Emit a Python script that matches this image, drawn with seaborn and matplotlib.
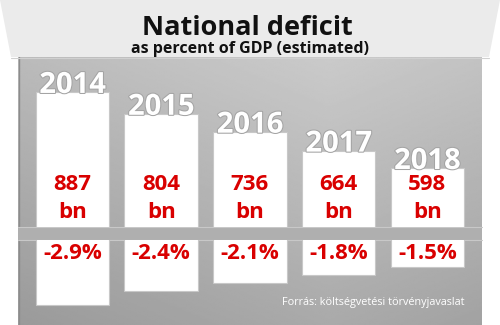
import numpy as np
import pandas as pd
import matplotlib
matplotlib.use("Agg")
import matplotlib.pyplot as plt
import matplotlib.patheffects as pe
from matplotlib.patches import Polygon, Rectangle
from matplotlib.transforms import blended_transform_factory
import seaborn as sns

# ---- data ----
years = ["2014", "2015", "2016", "2017", "2018"]
deficit_bn = [887, 804, 736, 664, 598]
deficit_pct = [2.9, 2.4, 2.1, 1.8, 1.5]
bn_labels = ["887", "804", "736", "664", "598"]
pct_labels = ["-2.9%", "-2.4%", "-2.1%", "-1.8%", "-1.5%"]
title = "National deficit"
subtitle = "as percent of GDP (estimated)"
source = "Forrás: költségvetési törvényjavaslat"

sns.set_theme(style="white")
FONT = ["Open Sans", "DejaVu Sans"]
plt.rcParams["font.family"] = FONT

W, H = 500, 325
fig = plt.figure(figsize=(5, 3.25), dpi=100)
fig.patch.set_facecolor("white")

# background axes in pixel coordinates
bg = fig.add_axes([0, 0, 1, 1], zorder=0)
bg.set_xlim(0, W)
bg.set_ylim(H, 0)
bg.axis("off")

# gray panel with gradient
px0, px1, py0, py1 = 18, 482, 57, 325
xx, yy = np.meshgrid(np.linspace(px0, px1, 200), np.linspace(py0, py1, 200))
vals = (202 - 0.12 * (yy - 57) - 0.05 * np.abs(xx - 330)) / 255.0
bg.imshow(vals, extent=[px0, px1, py1, py0], cmap="gray", vmin=0, vmax=1,
          aspect="auto", zorder=1, interpolation="bilinear")
bg.plot([px0 + 0.5, px0 + 0.5], [py0, py1], color="#8c8c8c", lw=1, zorder=2)

# header trapezoid
bg.add_patch(Polygon([(0, 0), (W, 0), (489, 57), (11, 57)], closed=True,
                     facecolor="#ebebeb", edgecolor="none", zorder=3))
bg.plot([11, 489], [57.5, 57.5], color="#d0d0d0", lw=0.8, zorder=3)

# divider band
bg.add_patch(Rectangle((px0, 226.7), px1 - px0, 13.3, facecolor="#afafaf",
                       edgecolor="none", zorder=2))
bg.plot([px0, px1], [226.9, 226.9], color="#c8c8c8", lw=0.8, zorder=2)
bg.plot([px0, px1], [239.8, 239.8], color="#c8c8c8", lw=0.8, zorder=2)

bg.text(247, 35, title, ha="center", va="baseline", fontsize=19.5,
        fontweight="bold", color="#111111", zorder=4)
bg.text(250, 52.7, subtitle, ha="center", va="baseline", fontsize=11.5,
        fontweight="bold", color="#111111", zorder=4)
bg.text(464, 305, source, ha="right", va="baseline", fontsize=7.8,
        color="white", zorder=4)

df = pd.DataFrame({"year": years, "bn": deficit_bn, "pct": deficit_pct})

# upper bars
ax_up = fig.add_axes([28.2 / W, (H - 226.7) / H, 443.5 / W, 169.7 / H], zorder=2)
sns.barplot(data=df, x="year", y="bn", ax=ax_up, color="white", width=0.83,
            edgecolor="#c8c8c8", linewidth=0.8, saturation=1)
ax_up.set_xlim(-0.5, 4.5)
ax_up.set_ylim(376, 1021)
ax_up.axis("off")
tr_up = blended_transform_factory(ax_up.transData, ax_up.transAxes)
for i, (y, v, lab) in enumerate(zip(years, deficit_bn, bn_labels)):
    ax_up.annotate(y, xy=(i, v), xytext=(0, -0.5), textcoords="offset points",
                   ha="center", va="baseline", fontsize=21, fontweight="bold",
                   color="white", zorder=5,
                   path_effects=[pe.withStroke(linewidth=1.5, foreground="#a4a4a4")])
    ax_up.text(i, 0.216, lab, transform=tr_up, ha="center", va="baseline",
               fontsize=16, fontweight="bold", color="#d90000")
    ax_up.text(i, 0.053, "bn", transform=tr_up, ha="center", va="baseline",
               fontsize=16, fontweight="bold", color="#d90000")

# lower bars
ax_lo = fig.add_axes([28.2 / W, 0, 443.5 / W, 85 / H], zorder=2)
sns.barplot(data=df, x="year", y="pct", ax=ax_lo, color="white", width=0.83,
            edgecolor="#c8c8c8", linewidth=0.8, saturation=1)
ax_lo.set_xlim(-0.5, 4.5)
ax_lo.set_ylim(3.63, 0.53)
ax_lo.axis("off")
tr_lo = blended_transform_factory(ax_lo.transData, ax_lo.transAxes)
for i, lab in enumerate(pct_labels):
    ax_lo.text(i, 1 - 19 / 85, lab, transform=tr_lo, ha="center", va="baseline",
               fontsize=16, fontweight="bold", color="#d90000")

for a in (ax_up, ax_lo):
    a.patch.set_alpha(0)

fig.savefig("out.png", dpi=100, facecolor="white")
